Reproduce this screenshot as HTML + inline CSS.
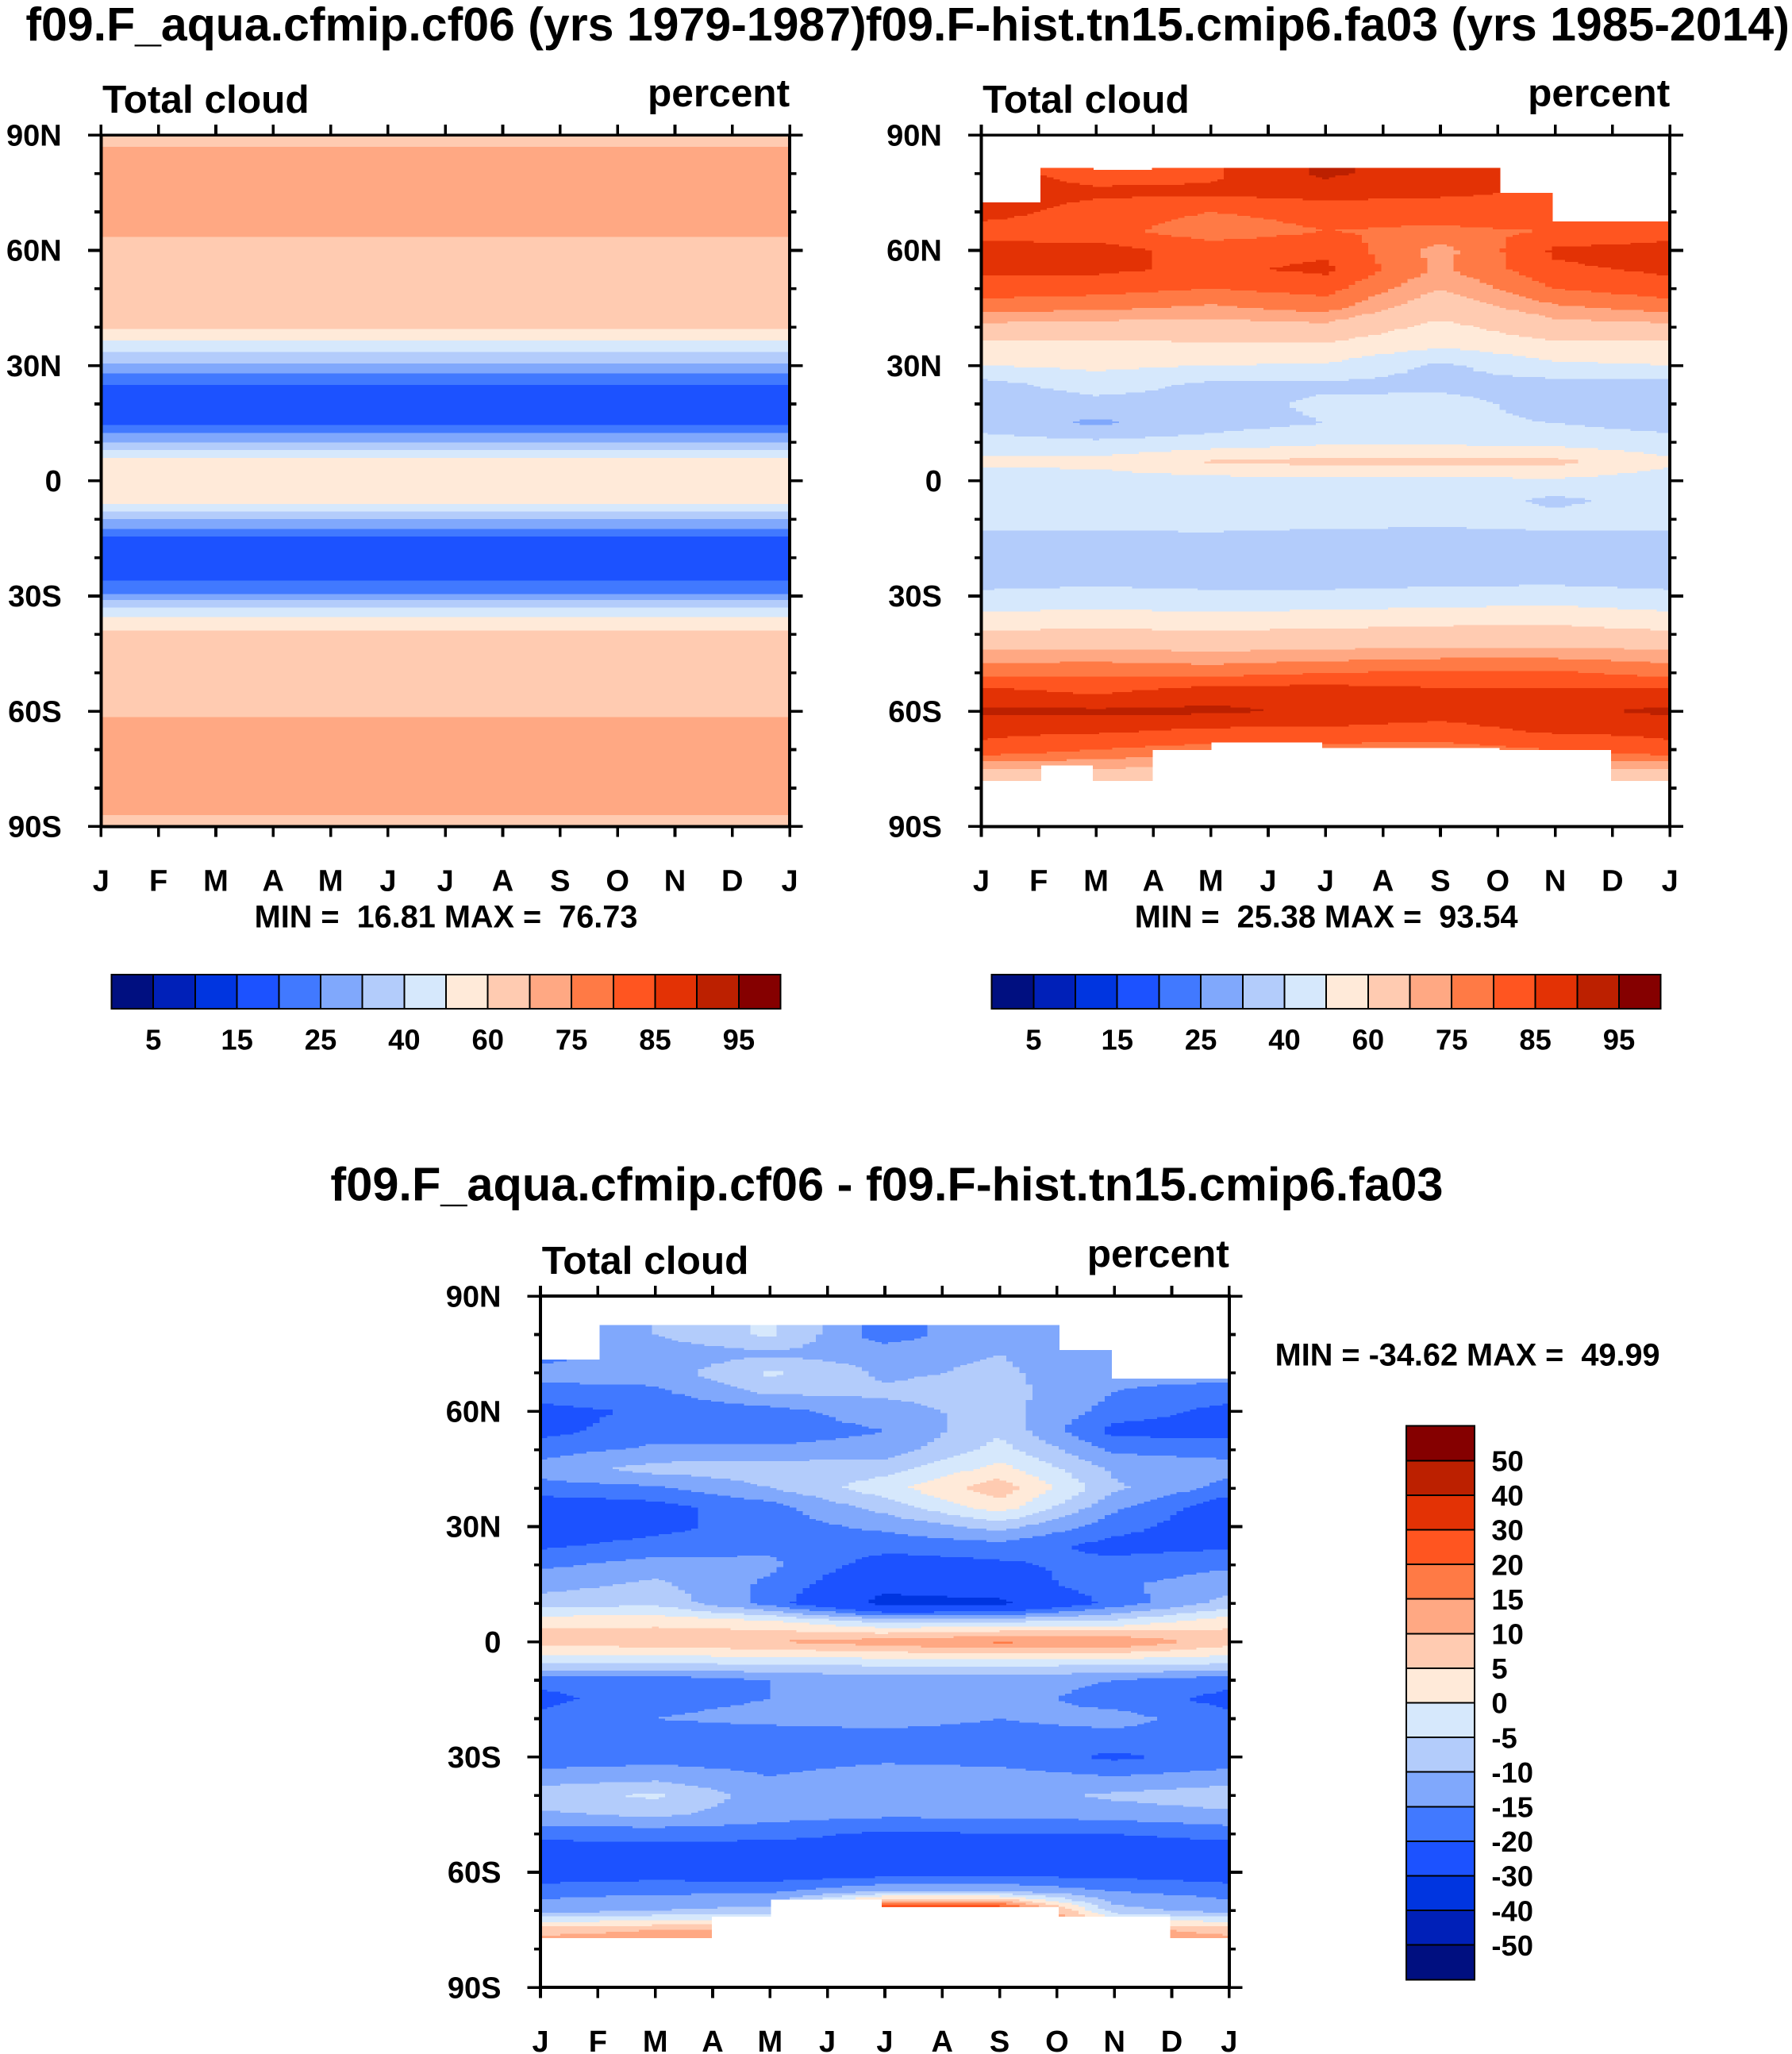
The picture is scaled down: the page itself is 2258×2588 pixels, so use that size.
<!DOCTYPE html>
<html><head><meta charset="utf-8"><style>
html,body{margin:0;padding:0;background:#fff}
svg{display:block}
text{font-family:"Liberation Sans",sans-serif;font-weight:bold;fill:#000;white-space:pre}
</style></head><body>
<svg id="chart" width="2258" height="2588" viewBox="0 0 1366 1565.7" xmlns="http://www.w3.org/2000/svg" shape-rendering="crispEdges" xml:space="preserve">
<text x="340" y="31" font-size="35.7" text-anchor="middle">f09.F_aqua.cfmip.cf06 (yrs 1979-1987)</text>
<text x="1012" y="31" font-size="35.7" text-anchor="middle">f09.F-hist.tn15.cmip6.fa03 (yrs 1985-2014)</text>
<text x="676" y="915" font-size="36" text-anchor="middle">f09.F_aqua.cfmip.cf06 - f09.F-hist.tn15.cmip6.fa03</text>
<g id="p1"></g>
<g id="p2"></g>
<g id="p3"></g>
</svg>
<script>
// ---- data ----
const months = ["J","F","M","A","M","J","J","A","S","O","N","D","J"];
const latTickLabels = ["90N","60N","30N","0","30S","60S","90S"];
const latTickValues = [90,60,30,0,-30,-60,-90];
const absLevels = [5,10,15,20,25,30,40,50,60,70,75,80,85,90,95];
const absLabels = ["5","15","25","40","60","75","85","95"];
const diffLevels = [-50,-40,-30,-20,-15,-10,-5,0,5,10,15,20,30,40,50];
const diffLabels = ["50","40","30","20","15","10","5","0","-5","-10","-15","-20","-30","-40","-50"];
const palette = ["#000f80","#0020b8","#0035e0","#1c52ff","#4179ff","#80a8fc","#b3ccfb","#d6e8fc","#ffead9","#ffcbb1","#ffa883","#ff7a45","#ff5520","#e33205","#bc2000","#850000"];
const lats = [];
for (let i=0;i<37;i++) lats.push(90-5*i);
const colMonths = [0,2,4,6,8,10,12];
// panel 1 zonal profile (uniform in time)
const aquaProfile = [67,72,74,73,72,71,68,66,65,64,61,45,28,20,18,19,30,55,57,55,30,19,18,18,26,48,63,65,66,67,69,72,74,74,73,72,67];
// panel 2
const hist_m0 = [87,87,87,87,87,83,87,86,83,77,68,57,50,36,34,36,44,52,45,44,43,38,36,36,42,52,62,72,78,87,91,86,84,70,55,55,55];
const hist_m2 = [83,83,83,86,83,82,87,86,82,76,67,57,52,45,36,28,42,53,45,45,43,38,36,37,43,53,63,72,79,84,91,86,80,70,55,55,55];
const hist_m4 = [84,84,84,86,80,77,83,84,80,74,67,58,50,38,36,36,44,61,46,45,44,38,35,36,42,52,62,71,78,88,91,84,78,68,55,55,55];
const hist_m6 = [91,91,91,87,82,80,84,86,82,77,68,58,49,38,42,40,48,63,47,45,43,37,35,36,42,53,63,72,80,88,89,84,78,68,55,55,55];
const hist_m8 = [87,87,87,86,82,79,73,74,70,65,57,51,38,37,44,42,48,64,47,45,42,37,35,37,43,55,64,73,81,86,87,83,78,68,55,55,55];
const hist_m10 = [84,84,84,84,84,80,86,84,80,74,67,57,48,36,36,40,46,63,48,38,43,38,35,37,44,56,64,73,81,86,89,86,80,70,55,55,55];
const hist_m12 = hist_m0;
// panel 3: difference
const diff_m0 = [-12,-12,-12,-17,-13,-17,-22,-22,-17,-13,-17,-24,-24,-21,-16,-12,-8,4,7,-3,-18,-22,-18,-17,-18,-13,-7,-11,-18,-24,-24,-17,-12,8,15,15,15];
const diff_m2 = [-10,-10,-10,-13,-13,-16,-19,-17,-14,-8,-16,-22,-22,-18,-13,-9,-6,4,8,-3,-18,-16,-15,-17,-17,-12,-4,-9,-18,-23,-23,-16,-10,10,15,15,15];
const diff_m4 = [-4,-4,-4,-11,-4,-9,-17,-18,-14,-7,-10,-17,-17,-16,-14,-16,-17,2,10,-3,-15,-15,-14,-17,-17,-15,-13,-13,-18,-24,-24,-16,-8,10,15,15,15];
const diff_m6 = [-18,-18,-18,-12,-11,-9,-12,-15,-13,-7,-2,-8,-14,-18,-23,-27,-33,-5,13,-2,-13,-13,-13,-17,-16,-13,-13,-14,-21,-24,-23,-10,30,15,15,15,15];
const diff_m8 = [-10,-10,-10,-10,-9,-8,-8,-6,-3,2,8,3,-8,-17,-21,-24,-32,-4,16,-2,-13,-13,-15,-17,-17,-13,-12,-14,-20,-24,-23,-10,30,15,15,15,15];
const diff_m10 = [-14,-14,-14,-14,-14,-15,-17,-22,-16,-11,-9,-14,-18,-22,-18,-16,-18,-3,15,-2,-15,-17,-13,-17,-21,-15,-9,-13,-20,-24,-22,-15,-8,12,15,15,15];
const diff_m12 = diff_m0;
// missing-data limits per month interval (lat deg)
const histNorthLimit = [72.3,81.7,81,81.7,81.7,81.7,81.7,81.7,81.7,75,67.5,67.5];
const histSouthLimit = [-78,-74,-78,-70,-67.8,-67.8,-69.5,-69.5,-69.5,-70,-70,-78];
const diffNorthLimit = [73.5,82.6,82.6,82.6,82.6,82.6,82.6,82.6,82.6,76,68.6,68.6];
const diffSouthLimit = [-77,-77,-77,-71.4,-67,-67,-68.8,-68.8,-68.8,-71.7,-71.7,-77];

const NS="http://www.w3.org/2000/svg";
function mk(tag, attrs, parent){const e=document.createElementNS(NS,tag);for(const k in attrs)e.setAttribute(k,attrs[k]);parent.appendChild(e);return e;}
function colorIndex(v, levels){let i=0;while(i<levels.length && v>=levels[i])i++;return i;}

function drawPanel(g, cfg){
  const {x0,x1,y0,y1} = cfg;
  const xs = m => x0 + (x1-x0)*m/12;
  const ys = lat => y0 + (y1-y0)*(90-lat)/180;
  const nT = 105, dLat = 0.5;
  for (let it=0; it<nT; it++){
    const m = (it+0.5)*12/nT;
    const mi = Math.min(11, Math.floor(m));
    const north = cfg.north ? cfg.north[mi] : 90;
    const south = cfg.south ? cfg.south[mi] : -90;
    let runStart=null, runColor=null;
    const flush=(endLat)=>{
      if(runColor!==null){
        const r = mk('rect',{x:xs(it*12/nT).toFixed(2),y:ys(runStart).toFixed(2),width:((x1-x0)/nT+0.6).toFixed(2),height:(ys(endLat)-ys(runStart)+0.3).toFixed(2),fill:runColor},g);
        
        
      }
    };
    for (let lat=90; lat>-90; lat-=dLat){
      const lc = lat - dLat/2;
      let col = null;
      if (lc <= north && lc >= south){
        const v = cfg.value(m, lc);
        col = palette[colorIndex(v, cfg.levels)];
      }
      if (col!==runColor){ flush(lat); runStart=lat; runColor=col; }
    }
    flush(-90);
  }
  const fr = mk('rect',{x:x0,y:y0,width:x1-x0,height:y1-y0,fill:'none',stroke:'#000','stroke-width':2.4},g);
  
  
  months.forEach((lab,i)=>{
    const x = xs(i);
    mk('line',{x1:x,y1:y0,x2:x,y2:y0-8,stroke:'#000','stroke-width':2.2},g);
    mk('line',{x1:x,y1:y1,x2:x,y2:y1+8,stroke:'#000','stroke-width':2.2},g);
    const t = mk('text',{x:x,y:y1+49,'font-size':23,'text-anchor':'middle'},g);
    t.textContent = lab;
    
    
  });
  for (let lat=90; lat>=-90; lat-=10){
    const y = ys(lat);
    const major = lat%30===0;
    const L = major?10:5;
    mk('line',{x1:x0,y1:y,x2:x0-L,y2:y,stroke:'#000','stroke-width':2.2},g);
    mk('line',{x1:x1,y1:y,x2:x1+L,y2:y,stroke:'#000','stroke-width':2.2},g);
  }
  latTickValues.forEach((lat,i)=>{
    const t = mk('text',{x:x0-30,y:ys(lat)+8,'font-size':23,'text-anchor':'end'},g);
    t.textContent = latTickLabels[i];
    
    
  });
  const a = mk('text',{x:x0+1,y:y0-17,'font-size':30},g);
  a.textContent='Total cloud';
  
  
  const b = mk('text',{x:x1,y:y0-22,'font-size':30,'text-anchor':'end'},g);
  b.textContent='percent';
  
  
}

function field2D(cols){
  return (m, lat)=>{
    let c = 0; while (c<colMonths.length-2 && m>colMonths[c+1]) c++;
    const tf = (m-colMonths[c])/(colMonths[c+1]-colMonths[c]);
    let r = Math.floor((90-lat)/5); if(r>35) r=35; if(r<0) r=0;
    const lf = ((90-lat)-r*5)/5;
    const A=cols[c], B=cols[c+1];
    const va = A[r]*(1-lf)+A[r+1]*lf, vb = B[r]*(1-lf)+B[r+1]*lf;
    return va*(1-tf)+vb*tf;
  };
}
function profile1D(p){
  return (m, lat)=>{
    let r = Math.floor((90-lat)/5); if(r>35) r=35;
    const lf = ((90-lat)-r*5)/5;
    return p[r]*(1-lf)+p[r+1]*lf;
  };
}

function hColorbar(g, x0, x1, y0, y1){
  const n = palette.length, w=(x1-x0)/n;
  palette.forEach((c,i)=>{
    const r = mk('rect',{x:x0+i*w,y:y0,width:w,height:y1-y0,fill:c,stroke:'#000','stroke-width':1.2},g);
    
    
  });
  absLabels.forEach((lab,k)=>{
    const t = mk('text',{x:x0+(2*k+1)*w,y:y1+31,'font-size':22,'text-anchor':'middle'},g);
    t.textContent=lab;
    
    
  });
}
function vColorbar(g, x0, x1, y0, y1){
  const n = palette.length, h=(y1-y0)/n;
  palette.forEach((c,i)=>{
    const r = mk('rect',{x:x0,y:y0+(n-1-i)*h,width:x1-x0,height:h,fill:c,stroke:'#000','stroke-width':1.2},g);
    
    
  });
  diffLabels.forEach((lab,k)=>{
    const t = mk('text',{x:x1+13,y:y0+(k+1)*h+8,'font-size':22},g);
    t.textContent=lab;
    
    
  });
}
function label(g,x,y,txt,anchor,name){
  const t = mk('text',{x:x,y:y,'font-size':24,'text-anchor':anchor},g);
  t.textContent=txt;
  
  
}

const p1=document.getElementById('p1'), p2=document.getElementById('p2'), p3=document.getElementById('p3');
drawPanel(p1,{x0:77,x1:602,y0:103,y1:630,levels:absLevels,value:profile1D(aquaProfile)});
drawPanel(p2,{x0:748,x1:1273,y0:103,y1:630,levels:absLevels,north:histNorthLimit,south:histSouthLimit,
  value:field2D([hist_m0,hist_m2,hist_m4,hist_m6,hist_m8,hist_m10,hist_m12])});
drawPanel(p3,{x0:412,x1:937,y0:988,y1:1515,levels:diffLevels,north:diffNorthLimit,south:diffSouthLimit,
  value:field2D([diff_m0,diff_m2,diff_m4,diff_m6,diff_m8,diff_m10,diff_m12])});
label(p1,340,707,"MIN =  16.81 MAX =  76.73","middle","min-max-label");
label(p2,1011,707,"MIN =  25.38 MAX =  93.54","middle","min-max-label");
label(p3,972,1041,"MIN = -34.62 MAX =  49.99","start","min-max-label");
hColorbar(p1,85,595,743,769);
hColorbar(p2,756,1266,743,769);
vColorbar(p3,1072,1124,1087,1509);
</script>
</body></html>
